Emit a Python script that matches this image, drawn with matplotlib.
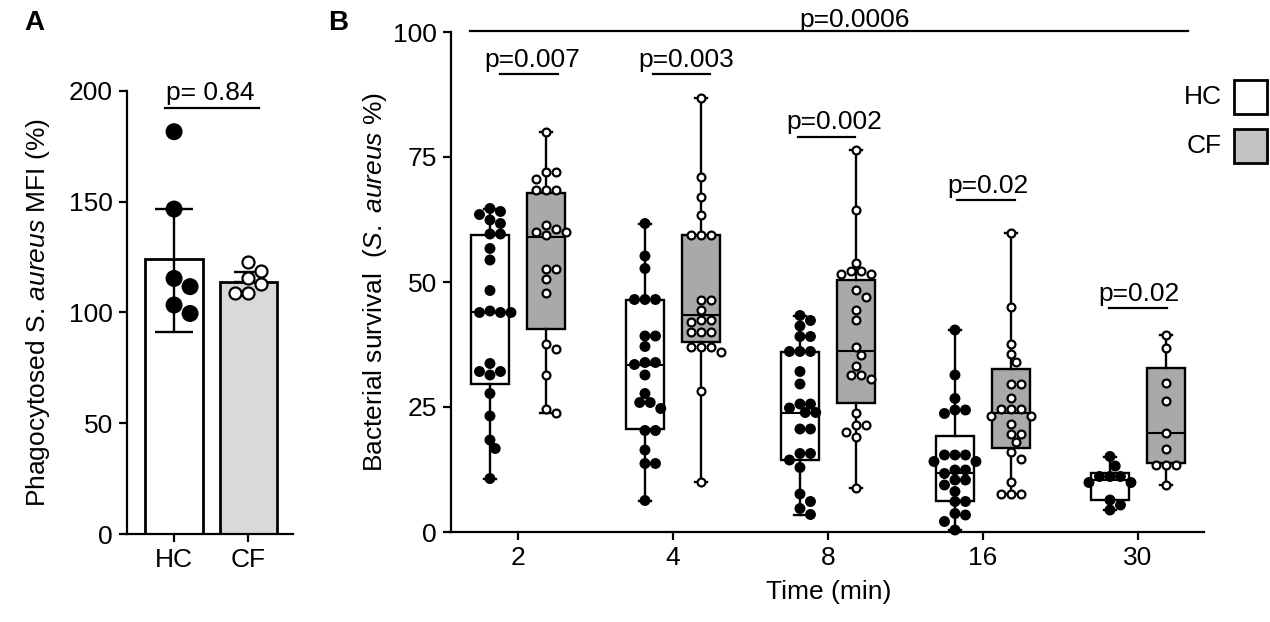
import numpy as np
import matplotlib
matplotlib.use("Agg")
import matplotlib.pyplot as plt
from matplotlib.patches import Rectangle

plt.rcParams['font.family'] = ['Liberation Sans', 'DejaVu Sans']
plt.rcParams['mathtext.fontset'] = 'custom'
plt.rcParams['mathtext.rm'] = 'Liberation Sans'
plt.rcParams['mathtext.it'] = 'Liberation Sans:italic'
FS = 19

# ---------------- data: panel A ----------------
groupsA = ['HC', 'CF']
hc_pts_A = [181.5, 146.6, 115.3, 111.6, 103.3, 99.5]
cf_pts_A = [122.9, 118.8, 115.5, 113.0, 108.6, 108.6]
barA_mean = [124.0, 113.8]
barA_err_low = [32.7, 0.0]
barA_err_high = [22.6, 4.5]
pA_label = 'p= 0.84'
pA_line = 192.2

# ---------------- data: panel B ----------------
times = ['2', '4', '8', '16', '30']
hc_pts = [
    [64.7, 64.1, 63.5, 62.4, 61.7, 59.6, 59.6, 56.7, 54.4, 48.3, 44.2, 43.9, 43.9, 43.9,
     33.7, 32.1, 32.1, 31.4, 27.7, 23.2, 18.4, 16.7, 10.7],
    [61.7, 55.2, 52.7, 46.5, 46.5, 46.5, 39.2, 39.2, 37.1, 33.9, 33.9, 33.5, 31.4, 27.7,
     25.9, 25.9, 24.7, 20.3, 20.3, 16.4, 13.7, 13.7, 6.3],
    [43.3, 42.3, 41.2, 39.1, 39.1, 36.1, 36.1, 36.1, 32.1, 29.6, 25.6, 25.6, 24.8, 23.9,
     23.9, 20.6, 20.6, 15.7, 15.7, 14.4, 12.9, 7.6, 6.1, 4.7, 3.5],
    [40.4, 31.4, 26.7, 24.4, 24.4, 23.7, 15.4, 15.4, 15.4, 14.1, 14.1, 12.4, 12.4, 11.7,
     10.4, 10.4, 9.4, 8.1, 6.1, 6.1, 3.7, 3.4, 2.1, 0.4],
    [15.1, 13.2, 11.1, 11.1, 11.1, 9.9, 9.9, 6.4, 5.4, 4.4],
]
cf_pts = [
    [80.1, 72.1, 72.1, 70.7, 68.4, 68.4, 68.4, 61.4, 60.7, 60.1, 60.1, 59.4, 52.7, 52.7,
     50.7, 47.9, 37.7, 36.7, 31.4, 24.7, 23.9],
    [86.9, 71.1, 67.1, 63.4, 59.4, 59.4, 59.4, 46.4, 46.4, 44.4, 42.5, 42.5, 42.1, 40.1,
     40.1, 40.1, 37.1, 37.1, 37.1, 36.1, 28.3, 10.1],
    [76.4, 64.4, 53.9, 52.3, 52.3, 51.7, 51.7, 48.5, 47.1, 44.4, 42.5, 37.1, 35.4, 33.2,
     31.4, 31.4, 30.7, 23.9, 21.4, 21.4, 20.1, 19.1, 8.9],
    [59.9, 45.1, 37.7, 35.7, 34.1, 29.6, 29.6, 26.9, 24.7, 24.7, 24.7, 23.3, 23.3, 21.7,
     19.7, 19.7, 18.1, 16.1, 14.7, 10.1, 7.7, 7.7, 7.7],
    [39.4, 36.9, 29.9, 26.3, 19.9, 16.7, 13.5, 13.5, 13.5, 9.4],
]
hc_q1 = [29.7, 20.6, 14.4, 6.3, 6.5]
hc_med = [44.0, 33.5, 23.9, 11.9, 10.4]
hc_q3 = [59.4, 46.4, 36.1, 19.3, 11.9]
cf_q1 = [40.7, 38.1, 25.9, 16.9, 13.9]
cf_med = [59.1, 43.4, 36.3, 23.9, 19.9]
cf_q3 = [67.9, 59.4, 50.4, 32.6, 32.9]
p_labels = ['p=0.007', 'p=0.003', 'p=0.002', 'p=0.02', 'p=0.02']
p_line_y = [91.6, 91.6, 79.1, 66.4, 44.9]
p_all_label = 'p=0.0006'

# ---------------- layout helpers ----------------
W, H = 1270, 622
fig = plt.figure(figsize=(W / 100, H / 100), dpi=100)


def fx(px):
    return px / W


def fy(py):
    return 1 - py / H


def swarm(values, d, xpx, ypx):
    """beeswarm offsets (data units) for values; d = marker diameter in px"""
    vals = np.asarray(values, float)
    offs = np.zeros(len(vals))
    placed = []
    step = d * 0.5
    cands = [0.0]
    for k in range(1, 30):
        cands += [k * step, -k * step]
    for i in np.argsort(-vals):
        y = vals[i] * ypx
        for c in cands:
            if all((c - px) ** 2 + (y - py) ** 2 >= (d * 0.92) ** 2 for px, py in placed):
                break
        placed.append((c, y))
        offs[i] = c / xpx
    return offs


def style_axes(ax):
    for s in ['top', 'right']:
        ax.spines[s].set_visible(False)
    for s in ['left', 'bottom']:
        ax.spines[s].set_linewidth(1.6)
    ax.tick_params(axis='both', length=6, width=1.6, labelsize=FS, pad=4, direction='out')


# ---------------- Panel A ----------------
axA = fig.add_axes([fx(127), fy(534), fx(293) - fx(127), fy(90.7) - fy(534)])
axA.set_xlim(-0.633, 1.60)
axA.set_ylim(0, 200)
style_axes(axA)
axA.bar([0, 1], barA_mean, width=0.777, color=['white', '#d9d9d9'],
        edgecolor='black', linewidth=2, zorder=1)
for i in range(2):
    axA.errorbar(i, barA_mean[i], yerr=[[barA_err_low[i]], [barA_err_high[i]]],
                 fmt='none', ecolor='black', elinewidth=1.7,
                 capsize=14 if i == 0 else 10, capthick=1.7, zorder=2)
xpxA, ypxA = 74.3, 2.216
oA = swarm(hc_pts_A, 16, xpxA, ypxA)
axA.scatter(0 + oA, hc_pts_A, s=150, color='black', edgecolors='none', zorder=3)
oA2 = swarm(cf_pts_A, 13, xpxA, ypxA)
axA.scatter(1 + oA2, cf_pts_A, s=75, facecolor='white', edgecolors='black',
            linewidths=1.6, zorder=3)
axA.set_xticks([0, 1], groupsA)
axA.set_yticks([0, 50, 100, 150, 200])
axA.set_ylabel(r'Phagocytosed S. $\it{aureus}$ MFI (%)', fontsize=FS)
axA.yaxis.set_label_coords(-0.45, 0.5)
# p value
xl0, xl1 = (165 - 174) / xpxA, (259 - 174) / xpxA
axA.plot([xl0, xl1], [pA_line, pA_line], color='black', lw=1.6, clip_on=False)
axA.text((210 - 174) / xpxA, pA_line + 3.7, pA_label, ha='center', va='baseline',
         fontsize=FS, clip_on=False)

# ---------------- Panel B ----------------
axB = fig.add_axes([fx(451), fy(532), fx(1204) - fx(451), fy(32) - fy(532)])
axB.set_xlim(-0.432, 4.426)
axB.set_ylim(0, 100)
style_axes(axB)
xpxB, ypxB = 155.0, 5.0
off = 28 / xpxB
pos = np.arange(len(times))


def stats(q1, med, q3, pts):
    return [dict(q1=q1[i], med=med[i], q3=q3[i], whislo=min(pts[i]), whishi=max(pts[i]),
                 fliers=[]) for i in range(len(pts))]


common = dict(widths=0.24, patch_artist=True, showfliers=False, manage_ticks=False,
              medianprops=dict(color='black', linewidth=1.5),
              whiskerprops=dict(color='black', linewidth=1.7),
              capprops=dict(color='black', linewidth=1.7), capwidths=0.075)
b1 = axB.bxp(stats(hc_q1, hc_med, hc_q3, hc_pts), positions=pos - off,
             boxprops=dict(facecolor='white', edgecolor='black', linewidth=1.7), **common)
b2 = axB.bxp(stats(cf_q1, cf_med, cf_q3, cf_pts), positions=pos + off,
             boxprops=dict(facecolor='#a9a9a9', edgecolor='black', linewidth=1.7), **common)
for i in range(len(times)):
    o = swarm(hc_pts[i], 10.5, xpxB, ypxB)
    axB.scatter(pos[i] - off + o, hc_pts[i], s=62, color='black', edgecolors='none',
                zorder=4, clip_on=False)
    o = swarm(cf_pts[i], 10, xpxB, ypxB)
    axB.scatter(pos[i] + off + o, cf_pts[i], s=32, facecolor='white', edgecolors='black',
                linewidths=1.6, zorder=4, clip_on=False)

axB.set_xticks(pos, times)
axB.set_yticks([0, 25, 50, 75, 100])
axB.set_xlabel('Time (min)', fontsize=FS)
axB.xaxis.set_label_coords(0.502, -0.095)
axB.set_ylabel(r'Bacterial survival  ($\it{S.\ aureus}$ %)', fontsize=FS)
axB.yaxis.set_label_coords(-0.082, 0.5)

# p-values per time
line_px = [(500, 558), (653, 710), (798, 855), (957, 1015), (1109, 1167)]
text_px = [532.5, 686.7, 834, 988, 1139]
for i in range(len(times)):
    a, b = line_px[i]
    axB.plot([(a - 518) / xpxB, (b - 518) / xpxB], [p_line_y[i]] * 2, color='black',
             lw=1.6, clip_on=False)
    axB.text((text_px[i] - 518) / xpxB, p_line_y[i] + 1.4, p_labels[i], ha='center',
             va='baseline', fontsize=FS, clip_on=False)
axB.plot([(470 - 518) / xpxB, (1188 - 518) / xpxB], [100.15, 100.15], color='black',
         lw=1.6, clip_on=False)
axB.text((855 - 518) / xpxB, 101.0, p_all_label, ha='center', va='baseline',
         fontsize=FS, clip_on=False)

# legend (manual)
for lab, face, ytop in [('HC', 'white', 80), ('CF', '#c2c2c2', 128.5)]:
    fig.add_artist(Rectangle((fx(1234), fy(ytop + 34)), 33 / W, 34 / H, transform=fig.transFigure,
                             facecolor=face, edgecolor='black', linewidth=2))
    fig.text(fx(1222), fy(ytop + 17.5), lab, ha='right', va='center', fontsize=FS)

# panel letters
fig.text(fx(34), fy(23), 'A', ha='center', va='center', fontsize=20, fontweight='bold')
fig.text(fx(338), fy(23), 'B', ha='center', va='center', fontsize=20, fontweight='bold')

fig.savefig('out.png', dpi=100)
